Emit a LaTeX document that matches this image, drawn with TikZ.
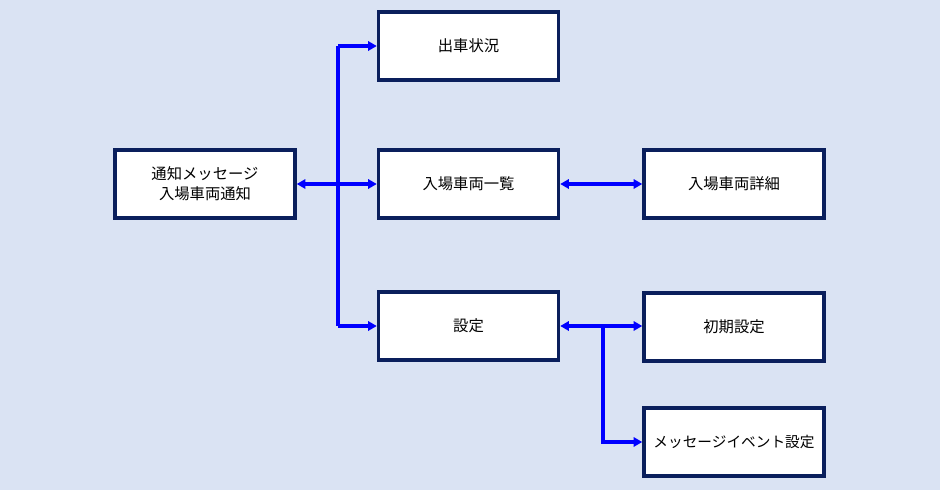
\documentclass[tikz,border=0pt]{standalone}
\usepackage{fontspec}
\newfontfamily\cjk{Noto Sans CJK JP}
\usetikzlibrary{arrows.meta}
\definecolor{bg}{HTML}{DAE3F3}
\definecolor{nav}{HTML}{0A1F5C}
\definecolor{ar}{HTML}{0000FF}
\begin{document}
\begin{tikzpicture}[x=0.75pt,y=-0.75pt,
 box/.style={draw=nav,line width=2.6pt,fill=white,minimum width=180*0.75pt,minimum height=68*0.75pt,inner sep=0pt,align=center,font=\cjk\fontsize{11.5}{15}\selectfont},
 con/.style={draw=ar,line width=2.3pt,-{Triangle[length=6.5pt,width=7pt]}},
 dcon/.style={draw=ar,line width=2.3pt,{Triangle[length=6.5pt,width=7pt]}-{Triangle[length=6.5pt,width=7pt]}}]
\fill[bg] (0,0) rectangle (940,490);
\node[box] (a) at (205,184) {通知メッセージ\\入場車両通知};
\node[box] (b) at (468.5,46) {出車状況};
\node[box] (c) at (468.5,184) {入場車両一覧};
\node[box] (d) at (468.5,326) {設定};
\node[box] (e) at (734,184) {入場車両詳細};
\node[box] (f) at (734,327) {初期設定};
\node[box,font=\cjk\fontsize{11}{14}\selectfont] (g) at (734,442) {メッセージイベント設定};
\coordinate (t1) at (338,46);
\coordinate (t2) at (338,326);
\coordinate (br) at (603,326);
\draw[draw=ar,line width=2.3pt] (t1) -- (t2);
\draw[dcon] (a.east) -- (c.west);
\draw[con] (t1) -- (b.west);
\draw[con] (t2) -- (d.west);
\draw[dcon] (c.east) -- (e.west);
\draw[dcon] (d.east) -- (f.west |- d.east);
\draw[con] (br) |- (g.west);
\end{tikzpicture}
\end{document}
